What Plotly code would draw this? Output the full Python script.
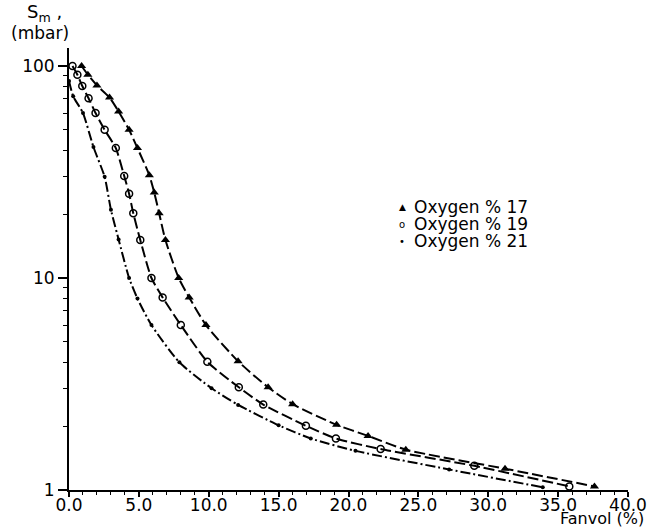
import plotly.graph_objects as go

# ---- data ----
series_names = ["Oxygen % 17", "Oxygen % 19", "Oxygen % 21"]

x17 = [0.9, 1.35, 2.0, 2.9, 3.55, 4.3, 4.9, 5.75, 6.1, 6.45, 6.9, 7.85, 8.6, 9.8,
       12.1, 14.25, 16.0, 19.15, 21.4, 24.1, 31.2, 37.6]
y17 = [100, 91, 81, 71, 61, 50, 41, 30.5, 25.3, 20.2, 15.1, 10, 8.1, 6.0,
       4.05, 3.05, 2.54, 2.03, 1.8, 1.55, 1.26, 1.04]

x19 = [0.25, 0.6, 0.95, 1.4, 1.9, 2.55, 3.35, 3.95, 4.3, 4.6, 5.1, 5.9, 6.7, 8.0,
       9.9, 12.15, 13.9, 16.95, 19.1, 22.3, 29.0, 35.8]
y19 = [100, 91, 80.5, 70.5, 60, 50, 41, 30.3, 25, 20.2, 15.1, 10, 8.1, 6.0,
       4.03, 3.05, 2.53, 2.01, 1.75, 1.56, 1.3, 1.04]

x21 = [0.0, 0.3, 1.0, 1.75, 2.55, 3.0, 3.55, 4.3, 4.9, 5.9, 7.9, 10.2, 12.1,
       15.0, 17.3, 20.5, 27.2, 33.9]
y21 = [85, 72, 60, 41.5, 30, 21, 15.2, 10, 8.0, 6.0, 4.0, 3.02, 2.52,
       2.02, 1.75, 1.53, 1.25, 1.03]

x_ticks = [0, 5, 10, 15, 20, 25, 30, 35, 40]
x_ticklabels = ["0.0", "5.0", "10.0", "15.0", "20.0", "25.0", "30.0", "35.0", "40.0"]
y_ticks = [1, 10, 100]
y_ticklabels = ["1", "10", "100"]
y_minor = [2, 3, 4, 5, 6, 7, 8, 9, 20, 30, 40, 50, 60, 70, 80, 90]

FONT = "DejaVu Sans"
BLACK = "black"

styles = [
    dict(symbol="triangle-up", size=8, dash="11px,4px", mline=0),
    dict(symbol="circle-open", size=7, dash="11px,4px", mline=1.5),
    dict(symbol="circle", size=4, dash="10px,3px,2px,3px", mline=0),
]
legend_symbols = ["▲", "o", "•"]
legend_sizes = [9, 10, 10]

fig = go.Figure()
for name, xs, ys, st in zip(series_names, [x17, x19, x21], [y17, y19, y21], styles):
    fig.add_trace(go.Scatter(
        x=xs, y=ys, name=name, mode="lines+markers",
        line=dict(color=BLACK, width=2, dash=st["dash"], shape="spline", smoothing=0.6),
        marker=dict(symbol=st["symbol"], size=st["size"], color=BLACK,
                    line=dict(color=BLACK, width=st["mline"])),
        cliponaxis=False, showlegend=False,
    ))

L, R, T, B = 69, 21, 48, 39
W, H = 649, 529
pw, ph = W - L - R, H - T - B

def px_x(p):
    return (p - L) / pw

def px_y(p):
    return (H - B - p) / ph

annotations = []
legend_rows = [207, 224, 241]
for sym, size, name, row in zip(legend_symbols, legend_sizes, series_names, legend_rows):
    annotations.append(dict(
        x=px_x(402), y=px_y(row), xref="paper", yref="paper", showarrow=False,
        text=sym, font=dict(family=FONT, size=size, color=BLACK),
        xanchor="center", yanchor="middle"))
    annotations.append(dict(
        x=px_x(412), y=px_y(row), xref="paper", yref="paper", showarrow=False,
        text=name, font=dict(family=FONT, size=17, color=BLACK),
        xanchor="left", yanchor="middle"))

annotations.append(dict(
    x=px_x(44), y=px_y(13), xref="paper", yref="paper", showarrow=False,
    text="S<sub>m</sub> ,", font=dict(family=FONT, size=18, color=BLACK),
    xanchor="center", yanchor="middle"))
annotations.append(dict(
    x=px_x(40), y=px_y(33), xref="paper", yref="paper", showarrow=False,
    text="(mbar)", font=dict(family=FONT, size=17, color=BLACK),
    xanchor="center", yanchor="middle"))
annotations.append(dict(
    x=px_x(646), y=px_y(518), xref="paper", yref="paper", showarrow=False,
    text="Fanvol (%)", font=dict(family=FONT, size=16, color=BLACK),
    xanchor="right", yanchor="middle"))

fig.update_layout(
    width=W, height=H,
    margin=dict(l=L, r=R, t=T, b=B, autoexpand=False),
    paper_bgcolor="white", plot_bgcolor="white",
    font=dict(family=FONT, color=BLACK, size=17),
    annotations=annotations,
    showlegend=False,
)
fig.update_xaxes(
    range=[0, 40], showgrid=False, zeroline=False, automargin=False,
    showline=True, linecolor=BLACK, linewidth=2,
    tickvals=x_ticks, ticktext=x_ticklabels,
    ticks="outside", ticklen=5, tickwidth=1.5, tickcolor=BLACK,
    ticklabelstandoff=-6,
    tickfont=dict(family=FONT, size=17, color=BLACK),
    minor=dict(dtick=1, ticks="outside", ticklen=3, tickwidth=1.2, tickcolor=BLACK, showgrid=False),
)
fig.update_yaxes(
    type="log", range=[0, 2.085], showgrid=False, zeroline=False, automargin=False,
    showline=True, linecolor=BLACK, linewidth=2,
    tickvals=y_ticks, ticktext=y_ticklabels,
    ticks="outside", ticklen=9, tickwidth=1.5, tickcolor=BLACK,
    tickfont=dict(family=FONT, size=17, color=BLACK),
    minor=dict(tickvals=y_minor, ticks="outside", ticklen=4, tickwidth=1.2, tickcolor=BLACK, showgrid=False),
)

fig.write_html("out.html")
